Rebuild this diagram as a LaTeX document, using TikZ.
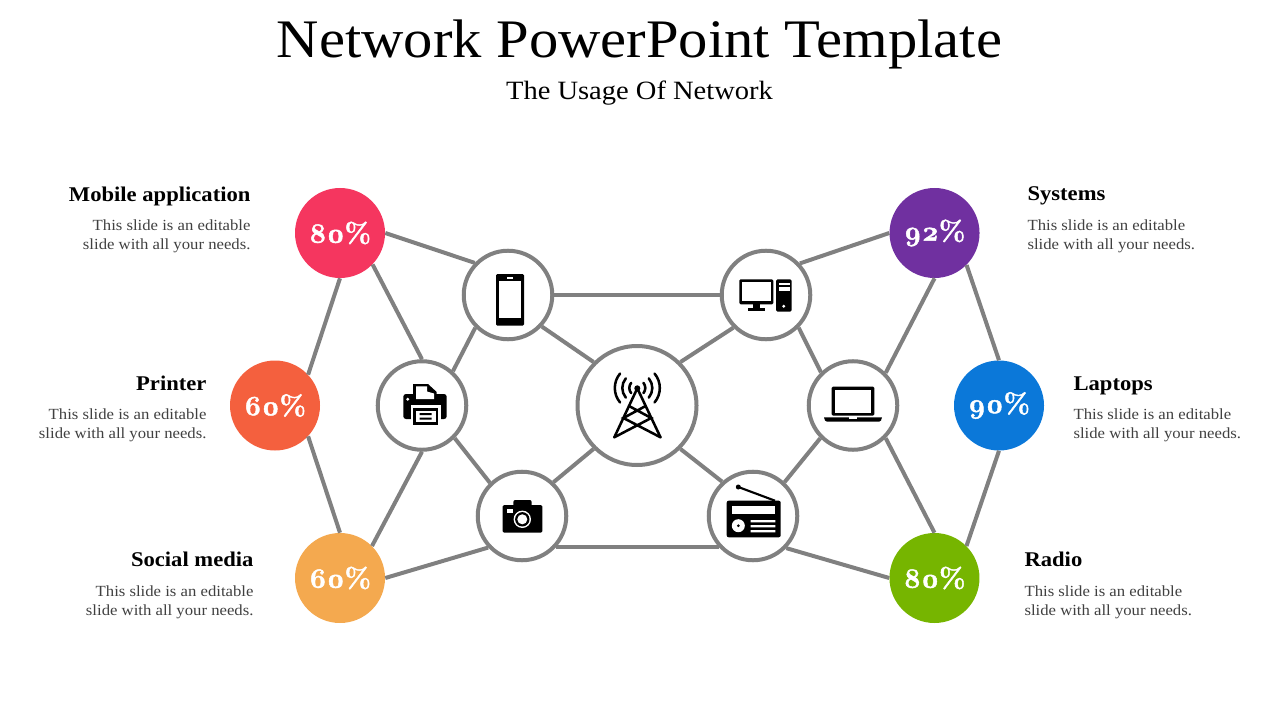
\documentclass[tikz,border=0pt]{standalone}
\usepackage{fontspec}
\setmainfont[FakeStretch=1.08]{Liberation Serif}
\newfontfamily\numfont[Numbers=OldStyle,BoldFeatures={FakeBold=1.6}]{Latin Modern Roman}
\usetikzlibrary{positioning}
\definecolor{linkgray}{HTML}{808080}
\definecolor{bodygray}{HTML}{404040}
\definecolor{mobilered}{HTML}{F5365F}
\definecolor{printerorange}{HTML}{F4603E}
\definecolor{socialyellow}{HTML}{F4A94F}
\definecolor{systemspurple}{HTML}{7030A0}
\definecolor{laptopblue}{HTML}{0B78D9}
\definecolor{radiogreen}{HTML}{76B500}
\tikzset{
  hub/.style={circle,draw=linkgray,fill=white,line width=3pt,inner sep=0pt,minimum size=66.4pt,on grid},
  bighub/.style={hub,minimum size=89.25pt},
  badge/.style={circle,fill=#1,inner sep=0pt,minimum size=67.5pt,on grid,text=white,font=\numfont\bfseries\fontsize{21}{24}\selectfont},
  link/.style={draw=linkgray,line width=3pt},
  headl/.style={inner sep=0pt,text height=10pt,text depth=3.5pt,font=\bfseries\fontsize{15.7}{18}\selectfont},
  bodyl/.style={inner sep=0pt,align=right,text=bodygray,font=\fontsize{11.6}{14.25}\selectfont},
  bodyr/.style={bodyl,align=left},
  iconline/.style={line width=1.9pt,line cap=round},
  cut/.style={fill=white}
}
\begin{document}
\begin{tikzpicture}[x=0.75pt,y=-0.75pt]
  \useasboundingbox (0,0) rectangle (1280,720);

  \node[anchor=base,font=\fontsize{40.7}{44}\selectfont] (title) at (639.5,58) {Network PowerPoint Template};
  \node[anchor=base,font=\fontsize{19.8}{24}\selectfont] (subtitle) at (639.5,99.5) {The Usage Of Network};

  \node[bighub] (tower) at (637,405.5) {};
  \node[hub] (laptop)   [right=162pt of tower] {};
  \node[hub] (printer)  [left=161.25pt of tower] {};
  \node[hub] (phone)    [above right=82.875pt and 64.5pt of printer] {};
  \node[hub] (camera)   [below right=82.875pt and 75pt of printer] {};
  \node[hub] (computer) [above left=82.875pt and 65.25pt of laptop] {};
  \node[hub] (radio)    [below left=82.875pt and 75pt of laptop] {};

  \node[badge=mobilered]     (mobilepct)  [above left=46.5pt and 126pt of phone] {80\%};
  \node[badge=printerorange] (printerpct) [left=110.25pt of printer] {60\%};
  \node[badge=socialyellow]  (socialpct)  [below left=46.5pt and 136.5pt of camera] {60\%};
  \node[badge=systemspurple] (systemspct) [above right=46.5pt and 126.4pt of computer] {92\%};
  \node[badge=laptopblue]    (laptoppct)  [right=109.5pt of laptop] {90\%};
  \node[badge=radiogreen]    (radiopct)   [below right=46.5pt and 136.1pt of radio] {80\%};

  \node[bodyl] (mobilebody)  [left=33pt of mobilepct,yshift=-2.25pt] {This slide is an editable\\slide with all your needs.};
  \node[bodyl] (printerbody) [left=17.25pt of printerpct,yshift=-15pt] {This slide is an editable\\slide with all your needs.};
  \node[bodyl] (socialbody)  [left=30.75pt of socialpct,yshift=-18.25pt] {This slide is an editable\\slide with all your needs.};
  \node[bodyr] (systemsbody) [right=35.6pt of systemspct,yshift=-2.25pt] {This slide is an editable\\slide with all your needs.};
  \node[bodyr] (laptopbody)  [right=21.75pt of laptoppct,yshift=-15pt] {This slide is an editable\\slide with all your needs.};
  \node[bodyr] (radiobody)   [right=33.4pt of radiopct,yshift=-18.25pt] {This slide is an editable\\slide with all your needs.};

  \node[headl] (mobilehead)  [above left=9.5pt and 0pt of mobilebody.north east] {Mobile application};
  \node[headl] (printerhead) [above left=10.25pt and 0pt of printerbody.north east] {Printer};
  \node[headl] (socialhead)  [above left=10.25pt and 0pt of socialbody.north east] {Social media};
  \node[headl] (systemshead) [above right=10.25pt and 0pt of systemsbody.north west] {Systems};
  \node[headl] (laptophead)  [above right=10.25pt and 0pt of laptopbody.north west] {Laptops};
  \node[headl] (radiohead)   [above right=10.25pt and 0pt of radiobody.north west] {Radio};

  \path[link] (mobilepct.east)   edge (phone.136)
              (mobilepct.south)  edge (printerpct.43)
              (mobilepct.-44)    edge (printer.north)
              (printerpct.-43)   edge (socialpct.north)
              (printer.south)    edge (socialpct.45)
              (printer.48)       edge (phone.225)
              (printer.-45)      edge (camera.134)
              (camera.223)       edge (socialpct.east)
              (phone.east)       edge (computer.west)
              (phone.-43)        edge (tower.135)
              (camera.47)        edge (tower.225)
              (camera.-42)       edge (radio.222)
              (tower.45)         edge (computer.225)
              (tower.-45)        edge (radio.132)
              (computer.43)      edge (systemspct.west)
              (computer.-45)     edge (laptop.134)
              (laptop.45)        edge (systemspct.south)
              (systemspct.-45)   edge (laptoppct.north)
              (laptoppct.south)  edge (radiopct.45)
              (laptop.-45)       edge (radiopct.north)
              (laptop.225)       edge (radio.47)
              (radio.-44)        edge (radiopct.west);

  % phone
  \fill[rounded corners=1pt] (496,274) rectangle (524,325.7);
  \fill[cut] (499.3,280.7) rectangle (521,318.3);
  \fill[cut] (507,277.2) rectangle (513,279);

  % printer
  \fill[rounded corners=2pt] (403.3,394) rectangle (446.7,419);
  \fill (413,384) -- (428,384) -- (436.7,392) -- (436.7,396) -- (413,396) -- cycle;
  \fill[cut] (416,386.3) -- (427,386.3) -- (427,391.5) -- (434,393.5) -- (434,399) -- (416,399) -- cycle;
  \fill[cut] (407.7,399.3) circle (1.6);
  \fill[cut] (410.5,405) rectangle (440.5,427);
  \fill (413.3,407.7) rectangle (438,425);
  \fill[cut] (416,410.7) rectangle (435.7,422.3);
  \fill (419.5,413) rectangle (431.5,415) (419.5,417.5) rectangle (431.5,419.5);

  % tower
  \fill (637.3,388.3) circle (3);
  \draw[iconline,line join=round] (614.3,437.3) -- (637.3,388.3) -- (660.5,437.3);
  \draw[iconline] (629,406) -- (651.2,418) -- (614.3,437.3)
                  (645.6,406) -- (623.4,418) -- (660.5,437.3);
  \foreach \r in {8,15,22.5} {
    \draw[iconline] (637.3,388) ++(140:\r) arc[start angle=140,end angle=220,radius=\r];
    \draw[iconline] (637.3,388) ++(-40:\r) arc[start angle=-40,end angle=40,radius=\r];
  }

  % camera
  \fill[rounded corners=1pt] (502.7,505) rectangle (542.3,532.7);
  \fill[rounded corners=1.5pt] (513.3,500) rectangle (531.7,508);
  \fill[cut] (506.7,509.3) rectangle (513.3,513);
  \fill[cut] (522.3,519.3) circle (8.7);
  \fill (522.3,519.3) circle (7.2);
  \fill[cut] (522.3,519.3) circle (5);

  % computer
  \fill[rounded corners=1pt] (739.3,279.3) rectangle (773.3,304.3);
  \fill[cut] (742.3,282) rectangle (770.7,301);
  \fill (753.3,304) rectangle (760,309);
  \fill (747.7,308.3) rectangle (765,311.3);
  \fill[rounded corners=1.2pt] (776,279.3) rectangle (791.7,311.7);
  \fill[cut] (778.5,282.5) rectangle (789.5,285);
  \fill[cut] (778.5,287) rectangle (789.5,290.7);
  \fill[cut] (783.7,306.3) circle (1.6);

  % laptop
  \fill[rounded corners=1pt] (831.7,386.7) rectangle (874.3,415.7);
  \fill[cut] (835,390) rectangle (871,413.3);
  \fill (824,417.3) -- (882,417.3) -- (881,420.5) -- (879,421.7) -- (827,421.7) -- (825,420.5) -- cycle;
  \fill[cut] (849,417.3) rectangle (857,419);

  % radio
  \fill (738.3,487) circle (2.5);
  \draw[line width=1.6pt] (738.3,487) -- (775,500.7);
  \fill[rounded corners=1.5pt] (726.7,500.7) rectangle (780.7,537.3);
  \fill[cut] (731.7,506) rectangle (775.3,514);
  \fill[cut] (738.3,525.7) circle (6.5);
  \fill (738.3,525.7) circle (1.5);
  \fill[cut] (750.7,520) rectangle (775.3,522.3) (750.7,525) rectangle (775.3,527.3) (750.7,530) rectangle (775.3,532.3);
\end{tikzpicture}
\end{document}
